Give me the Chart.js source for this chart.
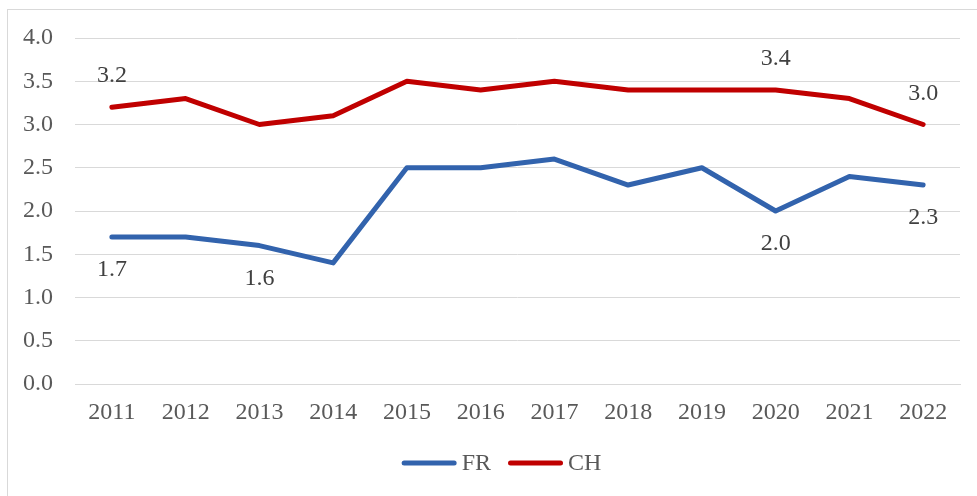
<!DOCTYPE html>
<html>
<head>
<meta charset="utf-8">
<script src="https://cdn.jsdelivr.net/npm/chart.js@4.4.1/dist/chart.umd.min.js"></script>
<style>
  html, body { margin: 0; padding: 0; background: #ffffff; }
  #wrap { width: 977px; height: 496px; position: relative; }
</style>
</head>
<body>
<div id="wrap"><canvas id="chart" width="977" height="496"></canvas></div>
<script>
// Years on the x axis
const years = ['2011','2012','2013','2014','2015','2016','2017','2018','2019','2020','2021','2022'];
// Series values
const frValues = [1.7, 1.7, 1.6, 1.4, 2.5, 2.5, 2.6, 2.3, 2.5, 2.0, 2.4, 2.3];
const chValues = [3.2, 3.3, 3.0, 3.1, 3.5, 3.4, 3.5, 3.4, 3.4, 3.4, 3.3, 3.0];
// Which points carry a value label
const frLabelIdx = [0, 2, 9, 11];
const chLabelIdx = [0, 9, 11];
// Y axis tick range
const yTicks = { min: 0, max: 4, step: 0.5 };

const serif = '"Liberation Serif", "Times New Roman", serif';
const fontSize = 24;
// Outer frame of the chart object (it runs past the right and bottom edges)
const frame = { left: 7.5, top: 9.5, width: 988, height: 500 };

// Light frame around the whole chart
const framePlugin = {
  id: 'frame',
  beforeDraw(chart) {
    const ctx = chart.ctx;
    ctx.save();
    ctx.strokeStyle = '#d9d9d9';
    ctx.lineWidth = 1;
    ctx.strokeRect(frame.left, frame.top, frame.width, frame.height);
    ctx.restore();
  }
};

// Value labels above (CH) or below (FR) selected points
const valueLabelPlugin = {
  id: 'valueLabels',
  afterDatasetsDraw(chart) {
    const ctx = chart.ctx;
    const xs = chart.scales.x, ys = chart.scales.y;
    ctx.save();
    ctx.font = fontSize + 'px ' + serif;
    ctx.fillStyle = '#404040';
    ctx.textAlign = 'center';
    ctx.textBaseline = 'middle';
    chart.data.datasets.forEach(ds => {
      ds.labelIdx.forEach(i => {
        const v = ds.data[i];
        const x = xs.getPixelForValue(i);
        const y = ys.getPixelForValue(v) + ds.labelOffset;
        ctx.fillText(v.toFixed(1), x, y);
      });
    });
    ctx.restore();
  }
};

// Legend row under the axis: a short line sample followed by the series name,
// centred within the outer frame
const lineLegendPlugin = {
  id: 'lineLegend',
  afterDraw(chart) {
    const ctx = chart.ctx;
    const sample = 55, gapText = 5, gapItem = 17;
    const y = 463;
    ctx.save();
    ctx.font = fontSize + 'px ' + serif;
    ctx.textBaseline = 'middle';
    const items = chart.data.datasets.map(ds => ({
      ds, w: sample + gapText + ctx.measureText(ds.label).width
    }));
    const total = items.reduce((s, it) => s + it.w, 0) + gapItem * (items.length - 1);
    let x = frame.left + (frame.width - total) / 2;
    items.forEach(it => {
      ctx.strokeStyle = it.ds.borderColor;
      ctx.lineWidth = it.ds.borderWidth;
      ctx.lineCap = 'round';
      ctx.beginPath();
      ctx.moveTo(x + 2.5, y);
      ctx.lineTo(x + sample - 2.5, y);
      ctx.stroke();
      ctx.fillStyle = '#595959';
      ctx.textAlign = 'left';
      ctx.fillText(it.ds.label, x + sample + gapText, y + 1);
      x += it.w + gapItem;
    });
    ctx.restore();
  }
};

new Chart(document.getElementById('chart'), {
  type: 'line',
  data: {
    labels: years,
    datasets: [
      {
        label: 'FR',
        data: frValues,
        borderColor: '#3263AD',
        backgroundColor: '#3263AD',
        borderWidth: 5,
        pointRadius: 0,
        borderCapStyle: 'round',
        borderJoinStyle: 'round',
        tension: 0,
        labelIdx: frLabelIdx,
        labelOffset: 33
      },
      {
        label: 'CH',
        data: chValues,
        borderColor: '#C00000',
        backgroundColor: '#C00000',
        borderWidth: 5,
        pointRadius: 0,
        borderCapStyle: 'round',
        borderJoinStyle: 'round',
        tension: 0,
        labelIdx: chLabelIdx,
        labelOffset: -31
      }
    ]
  },
  options: {
    responsive: false,
    animation: false,
    devicePixelRatio: 1,
    layout: { padding: { top: 38, right: 17, bottom: 56, left: 0 } },
    plugins: {
      tooltip: { enabled: false },
      legend: { display: false }
    },
    scales: {
      x: {
        offset: true,
        grid: { display: false, drawTicks: false },
        border: { display: true, color: '#d9d9d9', width: 1 },
        ticks: {
          color: '#595959',
          font: { family: serif, size: fontSize },
          padding: 14,
          maxRotation: 0,
          autoSkip: false
        },
        afterFit(scale) { scale.height = 56; }
      },
      y: {
        min: yTicks.min,
        max: yTicks.max,
        grid: { color: '#d9d9d9', lineWidth: 1, drawTicks: false },
        border: { display: false },
        ticks: {
          stepSize: yTicks.step,
          color: '#595959',
          font: { family: serif, size: fontSize },
          padding: 22,
          callback: v => Number(v).toFixed(1)
        },
        afterFit(scale) { scale.width = 75; }
      }
    }
  },
  plugins: [framePlugin, valueLabelPlugin, lineLegendPlugin]
});
</script>
</body>
</html>
